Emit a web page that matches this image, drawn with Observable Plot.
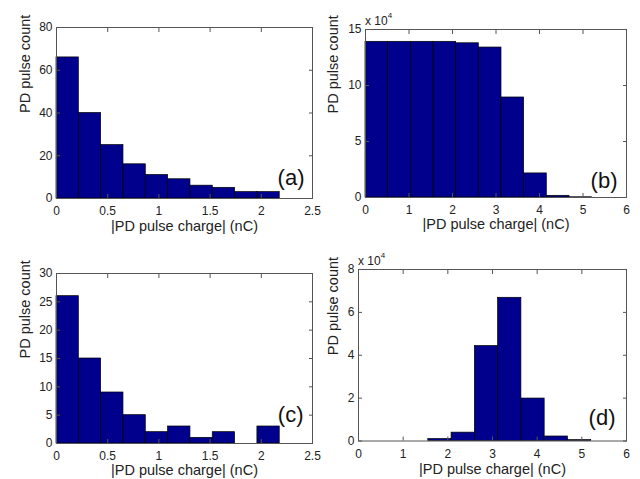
<!DOCTYPE html>
<html><head><meta charset="utf-8">
<script src="https://cdn.jsdelivr.net/npm/d3@7"></script>
<script src="https://cdn.jsdelivr.net/npm/@observablehq/plot@0.6"></script>
<style>
body{margin:0;background:#fff;}
#root{position:relative;width:640px;height:479px;overflow:hidden;font-family:"Liberation Sans",Arial,sans-serif;background:#fff;}
.panel{position:absolute;width:320px;height:240px;}
.exp{position:absolute;font-size:12px;color:#222;line-height:12px;white-space:nowrap;}
.exp sup{font-size:8px;position:relative;top:-2px;}
</style></head><body><div id="root"></div>
<script>
// Bin edges (nC)
const edgesSmall = [0, 0.218, 0.436, 0.654, 0.872, 1.090, 1.308, 1.526, 1.744, 1.962, 2.180];
const edgesLarge = [0, 0.521, 1.042, 1.563, 2.084, 2.605, 3.126, 3.647, 4.168, 4.689, 5.210];
// Counts
const countsA = [66, 40, 25, 16, 11, 9, 6, 5, 3, 3];
const countsB = [13.9, 13.9, 13.9, 13.9, 13.77, 13.39, 8.93, 2.15, 0.15, 0.02]; // x 10^4
const countsC = [26, 15, 9, 5, 2, 3, 1, 2, 0, 3];
const countsD = [0, 0, 0, 0.09, 0.39, 4.43, 6.68, 1.98, 0.21, 0.04]; // x 10^4
// Ticks
const xTicksSmall = [0, 0.5, 1, 1.5, 2, 2.5];
const xTicksLarge = [0, 1, 2, 3, 4, 5, 6];
const yTicksA = [0, 20, 40, 60, 80];
const yTicksB = [0, 5, 10, 15];
const yTicksC = [0, 5, 10, 15, 20, 25, 30];
const yTicksD = [0, 2, 4, 6, 8];
// Labels
const panelLabels = ["(a)", "(b)", "(c)", "(d)"];
const xLabel = "|PD pulse charge| (nC)";
const yLabel = "PD pulse count";
const expBase = "x 10";
const expPower = "4";

const FONT = '"Liberation Sans", Arial, sans-serif';
const NAVY = "#00008c";
const AX = "#555";
const fmt = d => String(d);

function panel(cfg) {
  const data = cfg.counts.map((v, i) => ({x1: cfg.edges[i], x2: cfg.edges[i + 1], v}));
  const svg = Plot.plot({
    width: 320, height: 240,
    marginLeft: cfg.ml, marginRight: cfg.mr, marginTop: cfg.mt, marginBottom: cfg.mb,
    style: {fontFamily: FONT, fontSize: "12px", color: "#222", background: "none", overflow: "visible"},
    x: {domain: [0, cfg.xTicks[cfg.xTicks.length - 1]]},
    y: {domain: [0, cfg.yTicks[cfg.yTicks.length - 1]]},
    marks: [
      Plot.rectY(data, {x1: "x1", x2: "x2", y: "v", fill: NAVY, stroke: "#000", strokeWidth: 0.7, inset: 0}),
      Plot.frame({stroke: AX}),
      Plot.axisX({ticks: cfg.xTicks, tickSize: -4, tickPadding: 12, tickFormat: fmt, label: null, stroke: AX}),
      Plot.axisX({anchor: "top", ticks: cfg.xTicks, tickSize: -4, tickFormat: () => "", label: null, stroke: AX}),
      Plot.axisY({ticks: cfg.yTicks, tickSize: -4, tickPadding: 8, tickFormat: fmt, label: null, stroke: AX}),
      Plot.axisY({anchor: "right", ticks: cfg.yTicks, tickSize: -4, tickFormat: () => "", label: null, stroke: AX}),
      Plot.text([xLabel], {frameAnchor: "bottom", dy: cfg.xlOff, lineAnchor: "middle", fontSize: 14.5, fill: "#222"}),
      Plot.text([yLabel], {frameAnchor: "left", dx: -cfg.ylOff, rotate: -90, lineAnchor: "middle", fontSize: 14.5, fill: "#222"}),
      Plot.text([cfg.label], {frameAnchor: "bottom-right", textAnchor: "end", dx: cfg.pdx, dy: cfg.pdy, lineAnchor: "middle", fontSize: 22, fill: "#111"})
    ]
  });
  const div = document.createElement("div");
  div.className = "panel";
  div.style.left = cfg.left + "px";
  div.style.top = cfg.top + "px";
  div.appendChild(svg);
  document.getElementById("root").appendChild(div);
  if (cfg.exp) {
    const e = document.createElement("div");
    e.className = "exp";
    e.style.left = (cfg.left + cfg.ml) + "px";
    e.style.top = (cfg.top + cfg.mt - 17) + "px";
    e.innerHTML = expBase + "<sup>" + expPower + "</sup>";
    document.getElementById("root").appendChild(e);
  }
}

panel({counts: countsA, edges: edgesSmall, xTicks: xTicksSmall, yTicks: yTicksA, label: panelLabels[0],
  left: 0, top: 0, ml: 56, mr: 8, mt: 27, mb: 42, xlOff: 28, ylOff: 31, pdx: -8, pdy: -21});
panel({counts: countsB, edges: edgesLarge, xTicks: xTicksLarge, yTicks: yTicksB, label: panelLabels[1], exp: true,
  left: 320, top: 0, ml: 45, mr: 14, mt: 29, mb: 43, xlOff: 27, ylOff: 32, pdx: -9, pdy: -17});
panel({counts: countsC, edges: edgesSmall, xTicks: xTicksSmall, yTicks: yTicksC, label: panelLabels[2],
  left: 0, top: 240, ml: 56, mr: 8, mt: 33, mb: 37, xlOff: 27, ylOff: 31, pdx: -9, pdy: -29});
panel({counts: countsD, edges: edgesLarge, xTicks: xTicksLarge, yTicks: yTicksD, label: panelLabels[3], exp: true,
  left: 320, top: 240, ml: 38, mr: 14, mt: 29, mb: 39.5, xlOff: 28, ylOff: 25, pdx: -11, pdy: -23});
</script></body></html>
